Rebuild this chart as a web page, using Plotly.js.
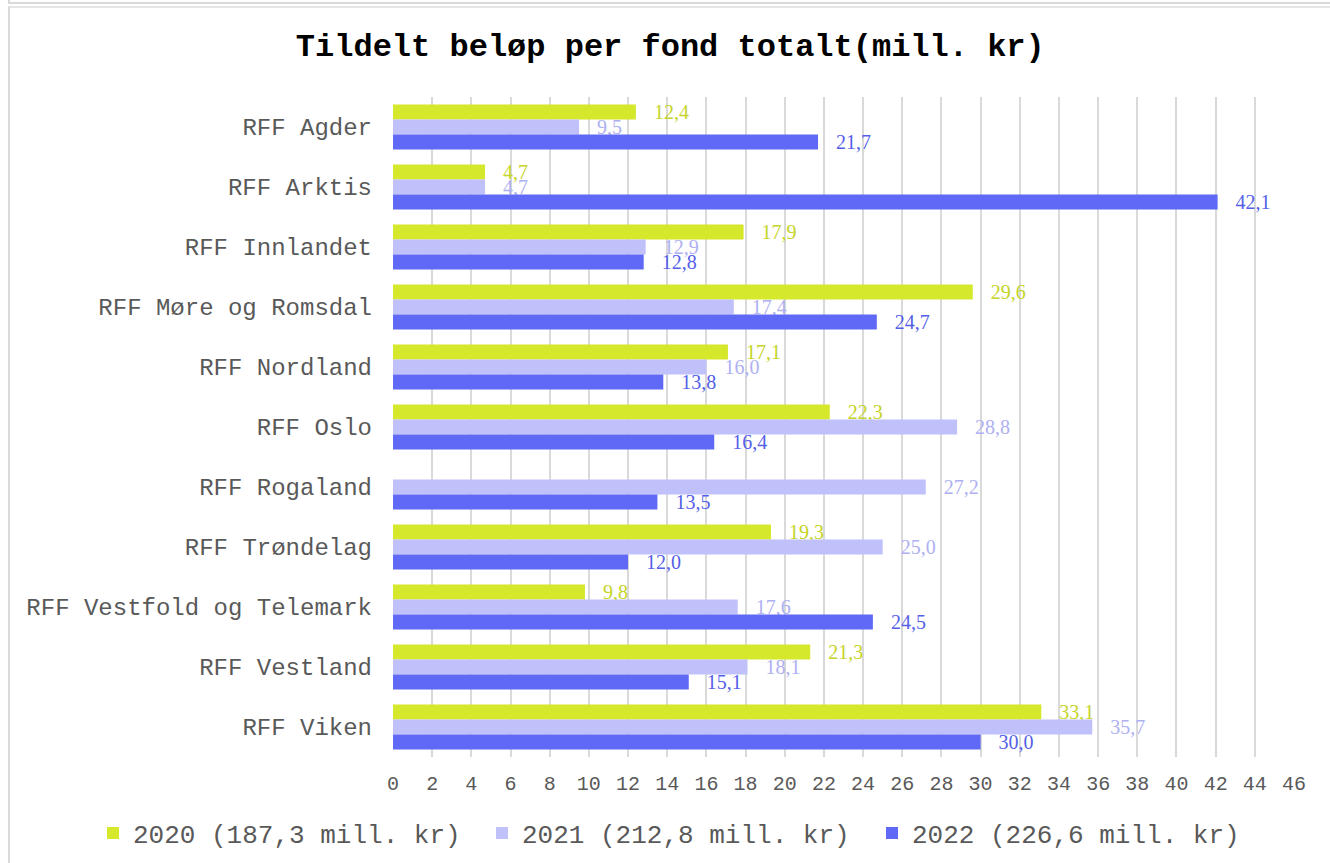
<!DOCTYPE html>
<html>
<head>
<meta charset="utf-8">
<script src="https://cdn.plot.ly/plotly-3.0.1.min.js"></script>
<style>
html,body{margin:0;padding:0;background:#fff;width:1330px;height:863px;overflow:hidden;}
#topline{position:absolute;left:8px;top:0;width:1330px;height:2px;border-left:2px solid #d9d9d9;border-bottom:2px solid #d9d9d9;}
#frame{position:absolute;left:8px;top:6px;width:1330px;height:870px;border-left:2px solid #d9d9d9;border-top:2px solid #e6e6e6;}
#chart{position:absolute;left:0;top:0;width:1330px;height:863px;}
</style>
</head>
<body>
<div id="topline"></div>
<div id="frame"></div>
<div id="chart"></div>
<script>
const categories = ["RFF Agder","RFF Arktis","RFF Innlandet","RFF Møre og Romsdal","RFF Nordland","RFF Oslo","RFF Rogaland","RFF Trøndelag","RFF Vestfold og Telemark","RFF Vestland","RFF Viken"];
const values2020 = [12.4, 4.7, 17.9, 29.6, 17.1, 22.3, null, 19.3, 9.8, 21.3, 33.1];
const values2021 = [9.5, 4.7, 12.9, 17.4, 16.0, 28.8, 27.2, 25.0, 17.6, 18.1, 35.7];
const values2022 = [21.7, 42.1, 12.8, 24.7, 13.8, 16.4, 13.5, 12.0, 24.5, 15.1, 30.0];
const seriesNames = ["2020 (187,3 mill. kr)", "2021 (212,8 mill. kr)", "2022 (226,6 mill. kr)"];
const xTicks = [0,2,4,6,8,10,12,14,16,18,20,22,24,26,28,30,32,34,36,38,40,42,44,46];

const barColors = ["#d5e82b", "#c0c1fb", "#5f69f5"];
const labelColors = ["#c5d428", "#aeb0f2", "#555fe8"];
const legendIds = ["legend", "legend2", "legend3"];
const pad = "\u00a0\u00a0\u00a0";

function mk(vals, i){
  return {
    type: "bar", orientation: "h",
    x: vals, y: categories, name: seriesNames[i],
    legend: legendIds[i],
    marker: {color: barColors[i]},
    texttemplate: vals.map(v => v == null ? "" : pad + "%{x:.1f}"),
    textposition: "outside",
    constraintext: "none",
    cliponaxis: false,
    textfont: {family: "Liberation Serif, Times New Roman, serif", size: 20, color: labelColors[i]},
    hoverinfo: "x+y"
  };
}

const data = [mk(values2020,0), mk(values2021,1), mk(values2022,2)];

function leg(xpx){
  return {
    orientation: "h",
    xref: "container", x: xpx/1330, xanchor: "left",
    yref: "container", y: 1 - 833/863, yanchor: "middle",
    font: {family: "Liberation Mono, Courier New, monospace", size: 26, color: "#595959"},
    itemwidth: 30,
    bgcolor: "rgba(0,0,0,0)",
    borderwidth: 0
  };
}

const layout = {
  width: 1330, height: 863,
  paper_bgcolor: "rgba(0,0,0,0)",
  plot_bgcolor: "rgba(0,0,0,0)",
  separators: ", ",
  margin: {l: 393, r: 36, t: 97, b: 106, autoexpand: false},
  barmode: "group",
  bargap: 0.25,
  bargroupgap: 0,
  title: {
    text: "<b>Tildelt beløp per fond totalt(mill. kr)</b>",
    font: {family: "Liberation Mono, Courier New, monospace", size: 32, color: "#000"},
    x: 0.504, xanchor: "center", xref: "container",
    y: 1 - 45/863, yanchor: "middle", yref: "container"
  },
  xaxis: {
    range: [0, 46],
    tickvals: xTicks,
    ticktext: xTicks.map(String),
    showgrid: true, gridcolor: "#d9d9d9", gridwidth: 2,
    zeroline: false, showline: false,
    ticks: "",
    ticklabelstandoff: 12,
    tickfont: {family: "Liberation Mono, Courier New, monospace", size: 20, color: "#595959"},
    fixedrange: true
  },
  yaxis: {
    type: "category",
    autorange: "reversed",
    showgrid: false, zeroline: false, showline: false,
    ticks: "",
    ticklabelstandoff: 20,
    tickfont: {family: "Liberation Mono, Courier New, monospace", size: 24, color: "#595959"},
    fixedrange: true
  },
  showlegend: true,
  legend: leg(93),
  legend2: leg(482),
  legend3: leg(872)
};

Plotly.newPlot("chart", data, layout, {displayModeBar: false, staticPlot: true});
</script>
</body>
</html>
